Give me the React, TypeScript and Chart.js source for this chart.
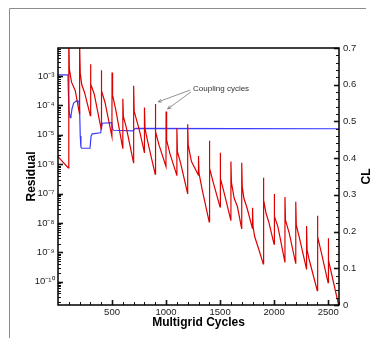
import React, { useEffect, useRef } from "react";
import { Chart, registerables } from "chart.js";

Chart.register(...registerables);

// ---- Data ----
const residualCycles = [
  0, 95, 100, 105, 125, 160, 199,
  200, 206, 220, 245, 299,
  300, 305, 335, 399,
  400, 405, 435, 499,
  500, 505, 535, 599,
  600, 605, 630, 699,
  700, 705, 735, 760, 799,
  800, 805, 830, 899,
  900, 905, 935, 999,
  1000, 1005, 1035, 1099,
  1100, 1105, 1135, 1199,
  1200, 1205, 1235, 1299,
  1300, 1305, 1335, 1399,
  1400, 1405, 1435, 1499,
  1500, 1505, 1535, 1599,
  1600, 1605, 1630, 1660, 1699,
  1700, 1705, 1720, 1750, 1799,
  1800, 1805, 1820, 1860, 1899,
  1900, 1905, 1925, 1950, 1999,
  2000, 2005, 2035, 2099,
  2100, 2105, 2140, 2199,
  2200, 2205, 2235, 2299,
  2300, 2305, 2325, 2399,
  2400, 2405, 2435, 2499,
  2500, 2505, 2530, 2600,
];
// log10 of the residual
const residualExp = [
  -5.74, -6.13, -1.6, -2.76, -3.21, -3.5, -4.29,
  -1.9, -2.9, -3.3, -3.55, -4.35,
  -2.6, -3.27, -3.61, -4.8,
  -2.8, -3.5, -3.9, -5.06,
  -2.88, -3.65, -4.16, -5.45,
  -3.77, -4.38, -4.72, -5.95,
  -3.33, -4.2, -4.6, -4.95, -5.6,
  -4.07, -4.78, -5.23, -6.34,
  -3.95, -4.89, -5.35, -6.08,
  -4.21, -5.18, -5.63, -6.37,
  -4.78, -5.57, -5.97, -6.99,
  -4.64, -5.35, -5.91, -6.37,
  -5.72, -6.31, -6.88, -7.96,
  -5.2, -6.14, -6.6, -7.45,
  -5.61, -6.48, -6.94, -7.9,
  -5.91, -6.63, -7.16, -7.44, -8.18,
  -5.95, -6.77, -7.16, -7.5, -8.18,
  -7.48, -8.13, -8.47, -8.92, -9.39,
  -6.46, -7.22, -7.67, -7.96, -8.72,
  -7.01, -7.78, -8.13, -9.32,
  -7.12, -7.9, -8.35, -9.37,
  -7.28, -8.07, -8.52, -9.56,
  -8.1, -8.92, -9.26, -10.3,
  -7.75, -8.47, -8.98, -10.03,
  -8.52, -9.26, -9.71, -10.85,
];

const clCycles = [
  0, 92, 96, 102, 112, 120, 130, 145, 170, 194,
  200, 206, 212, 219, 296, 300, 306, 316, 395,
  400, 410, 497, 505, 515, 697, 705, 720, 2600,
];
const clValues = [
  0.627, 0.627, 0.58, 0.53, 0.51, 0.515, 0.535, 0.55, 0.556, 0.555,
  0.53, 0.46, 0.43, 0.427, 0.427, 0.44, 0.46, 0.466, 0.469,
  0.48, 0.495, 0.497, 0.48, 0.476, 0.474, 0.479, 0.481, 0.48,
];

const xTickValues = [500, 1000, 1500, 2000, 2500];
const residualTickExps = [-10, -9, -8, -7, -6, -5, -4, -3];
const clTickValues = [0, 0.1, 0.2, 0.3, 0.4, 0.5, 0.6, 0.7];

const xLabel = "Multigrid Cycles";
const yLabel = "Residual";
const y1Label = "CL";
const annotationText = "Coupling cycles";
// annotation anchors in data space: [cycle, log10 residual]
const annotationTextAt = [1250, -3.42];
const arrowFrom = [
  [1222, -3.48],
  [1231, -3.54],
];
const arrowTo = [
  [926, -3.88],
  [1014, -4.12],
];

const FONT = "'Liberation Sans', Arial, Helvetica, sans-serif";

const SUP: Record<string, string> = {
  "-": "\u207B", "0": "\u2070", "1": "\u00B9", "2": "\u00B2", "3": "\u00B3",
  "4": "\u2074", "5": "\u2075", "6": "\u2076", "7": "\u2077", "8": "\u2078", "9": "\u2079",
};
const sup = (n: number) => String(n).split("").map((c) => SUP[c] ?? c).join("");

const decorPlugin = {
  id: "decor",
  afterDraw(chart: any) {
    const ctx = chart.ctx as CanvasRenderingContext2D;
    const { left, right, top, bottom } = chart.chartArea;
    const xs = chart.scales.x;
    const ys = chart.scales.y;
    const y1 = chart.scales.y1;
    ctx.save();

    // outer frame (gray)
    ctx.strokeStyle = "#8c8c8c";
    ctx.lineWidth = 1;
    ctx.beginPath();
    ctx.moveTo(9.5, 338);
    ctx.lineTo(9.5, 8.5);
    ctx.lineTo(366, 8.5);
    ctx.stroke();

    ctx.strokeStyle = "#111";
    // left log ticks
    for (let d = -12; d <= -1; d++) {
      for (let m = 1; m <= 9; m++) {
        const v = m * Math.pow(10, d);
        if (v < ys.min || v > ys.max) continue;
        const py = Math.round(ys.getPixelForValue(v)) + 0.5;
        const len = m === 1 ? 5 : 3;
        ctx.lineWidth = m === 1 ? 1.6 : 1;
        ctx.beginPath();
        ctx.moveTo(left, py);
        ctx.lineTo(left + len, py);
        ctx.stroke();
      }
    }
    // right linear ticks
    for (let i = 0; i <= 35; i++) {
      const v = i * 0.02;
      const py = Math.round(y1.getPixelForValue(v)) + 0.5;
      const major = i % 5 === 0;
      ctx.lineWidth = major ? 1.6 : 1;
      ctx.beginPath();
      ctx.moveTo(right, py);
      ctx.lineTo(right - (major ? 5 : 3), py);
      ctx.stroke();
    }
    // bottom ticks
    for (let c = 100; c <= 2600; c += 100) {
      const px = Math.round(xs.getPixelForValue(c)) + 0.5;
      const major = c % 500 === 0;
      ctx.lineWidth = major ? 1.6 : 1;
      ctx.beginPath();
      ctx.moveTo(px, bottom);
      ctx.lineTo(px, bottom - (major ? 5 : 3));
      ctx.stroke();
    }

    // plot box
    ctx.strokeStyle = "#000";
    ctx.lineWidth = 1.5;
    ctx.strokeRect(left, top, right - left, bottom - top);

    // right axis title
    ctx.fillStyle = "#000";
    ctx.font = `bold 12px ${FONT}`;
    ctx.textAlign = "center";
    ctx.textBaseline = "middle";
    ctx.save();
    ctx.translate(367, (top + bottom) / 2);
    ctx.rotate(-Math.PI / 2);
    ctx.fillText(y1Label, 0, 0);
    ctx.restore();

    // annotation
    const P = (p: number[]) => [xs.getPixelForValue(p[0]), ys.getPixelForValue(Math.pow(10, p[1]))];
    const [tx, ty] = P(annotationTextAt);
    ctx.fillStyle = "#333";
    ctx.font = `8px ${FONT}`;
    ctx.textAlign = "left";
    ctx.textBaseline = "middle";
    ctx.fillText(annotationText, tx, ty);
    ctx.strokeStyle = "#777";
    ctx.lineWidth = 0.8;
    for (let i = 0; i < arrowFrom.length; i++) {
      const [x0, y0] = P(arrowFrom[i]);
      const [x1, yy1] = P(arrowTo[i]);
      ctx.beginPath();
      ctx.moveTo(x0, y0);
      ctx.lineTo(x1, yy1);
      ctx.stroke();
      const ang = Math.atan2(yy1 - y0, x1 - x0);
      const ah = 4;
      ctx.beginPath();
      ctx.moveTo(x1 - ah * Math.cos(ang - 0.4), yy1 - ah * Math.sin(ang - 0.4));
      ctx.lineTo(x1, yy1);
      ctx.lineTo(x1 - ah * Math.cos(ang + 0.4), yy1 - ah * Math.sin(ang + 0.4));
      ctx.stroke();
    }

    ctx.restore();
  },
};

export default function App() {
  const ref = useRef<HTMLCanvasElement | null>(null);

  useEffect(() => {
    if (!ref.current) return;
    const redData = residualCycles.map((c, i) => ({ x: c, y: Math.pow(10, residualExp[i]) }));
    const blueData = clCycles.map((c, i) => ({ x: c, y: clValues[i] }));

    const chart = new Chart(ref.current, {
      type: "line",
      data: {
        datasets: [
          {
            label: "Residual",
            data: redData,
            yAxisID: "y",
            borderColor: "#dd0000",
            borderWidth: 1.2,
            pointRadius: 0,
            tension: 0,
            fill: false,
          },
          {
            label: "CL",
            data: blueData,
            yAxisID: "y1",
            borderColor: "#3a3aff",
            borderWidth: 1.2,
            pointRadius: 0,
            tension: 0,
            fill: false,
          },
        ],
      },
      options: {
        responsive: false,
        animation: false,
        events: [],
        layout: { padding: { top: 48, left: 0, right: 0, bottom: 0 } },
        plugins: { legend: { display: false }, tooltip: { enabled: false } },
        scales: {
          x: {
            type: "linear",
            position: "bottom",
            min: 0,
            max: 2600,
            grid: { display: false, drawTicks: false },
            border: { display: false },
            afterBuildTicks: (s: any) => {
              s.ticks = xTickValues.map((v) => ({ value: v }));
            },
            afterFit: (s: any) => {
              s.height = 33;
            },
            ticks: {
              autoSkip: false,
              maxRotation: 0,
              padding: 2,
              color: "#222",
              font: { family: FONT, size: 9.5 },
              callback: (v: any) => String(v),
            },
            title: {
              display: true,
              text: xLabel,
              color: "#000",
              font: { family: FONT, size: 12, weight: "bold" },
              padding: { top: 0, bottom: 8 },
            },
          },
          y: {
            type: "logarithmic",
            position: "left",
            min: Math.pow(10, -10.79),
            max: Math.pow(10, -2.047),
            grid: { display: false, drawTicks: false },
            border: { display: false },
            afterBuildTicks: (s: any) => {
              s.ticks = residualTickExps.map((e) => ({ value: Math.pow(10, e) }));
            },
            afterFit: (s: any) => {
              s.width = 58;
            },
            ticks: {
              autoSkip: false,
              padding: 3.5,
              color: "#222",
              font: { family: FONT, size: 9.5 },
              callback: (v: any) => "10" + sup(Math.round(Math.log10(Number(v)))),
            },
            title: {
              display: true,
              text: yLabel,
              color: "#000",
              font: { family: FONT, size: 12, weight: "bold" },
              padding: { top: 24, bottom: 0 },
            },
          },
          y1: {
            type: "linear",
            position: "right",
            min: 0,
            max: 0.7,
            grid: { display: false, drawTicks: false },
            border: { display: false },
            afterBuildTicks: (s: any) => {
              s.ticks = clTickValues.map((v) => ({ value: v }));
            },
            afterFit: (s: any) => {
              s.width = 35;
            },
            ticks: {
              autoSkip: false,
              padding: 4,
              color: "#222",
              font: { family: FONT, size: 9.5 },
              callback: (v: any) => (Number(v) === 0 ? "0" : Number(v).toFixed(1)),
            },
          },
        },
      },
      plugins: [decorPlugin],
    } as any);

    return () => chart.destroy();
  }, []);

  return (
    <div style={{ position: "fixed", left: 0, top: 0, width: 374, height: 338, background: "#fff" }}>
      <canvas ref={ref} width={374} height={338} style={{ display: "block", width: 374, height: 338 }} />
    </div>
  );
}
